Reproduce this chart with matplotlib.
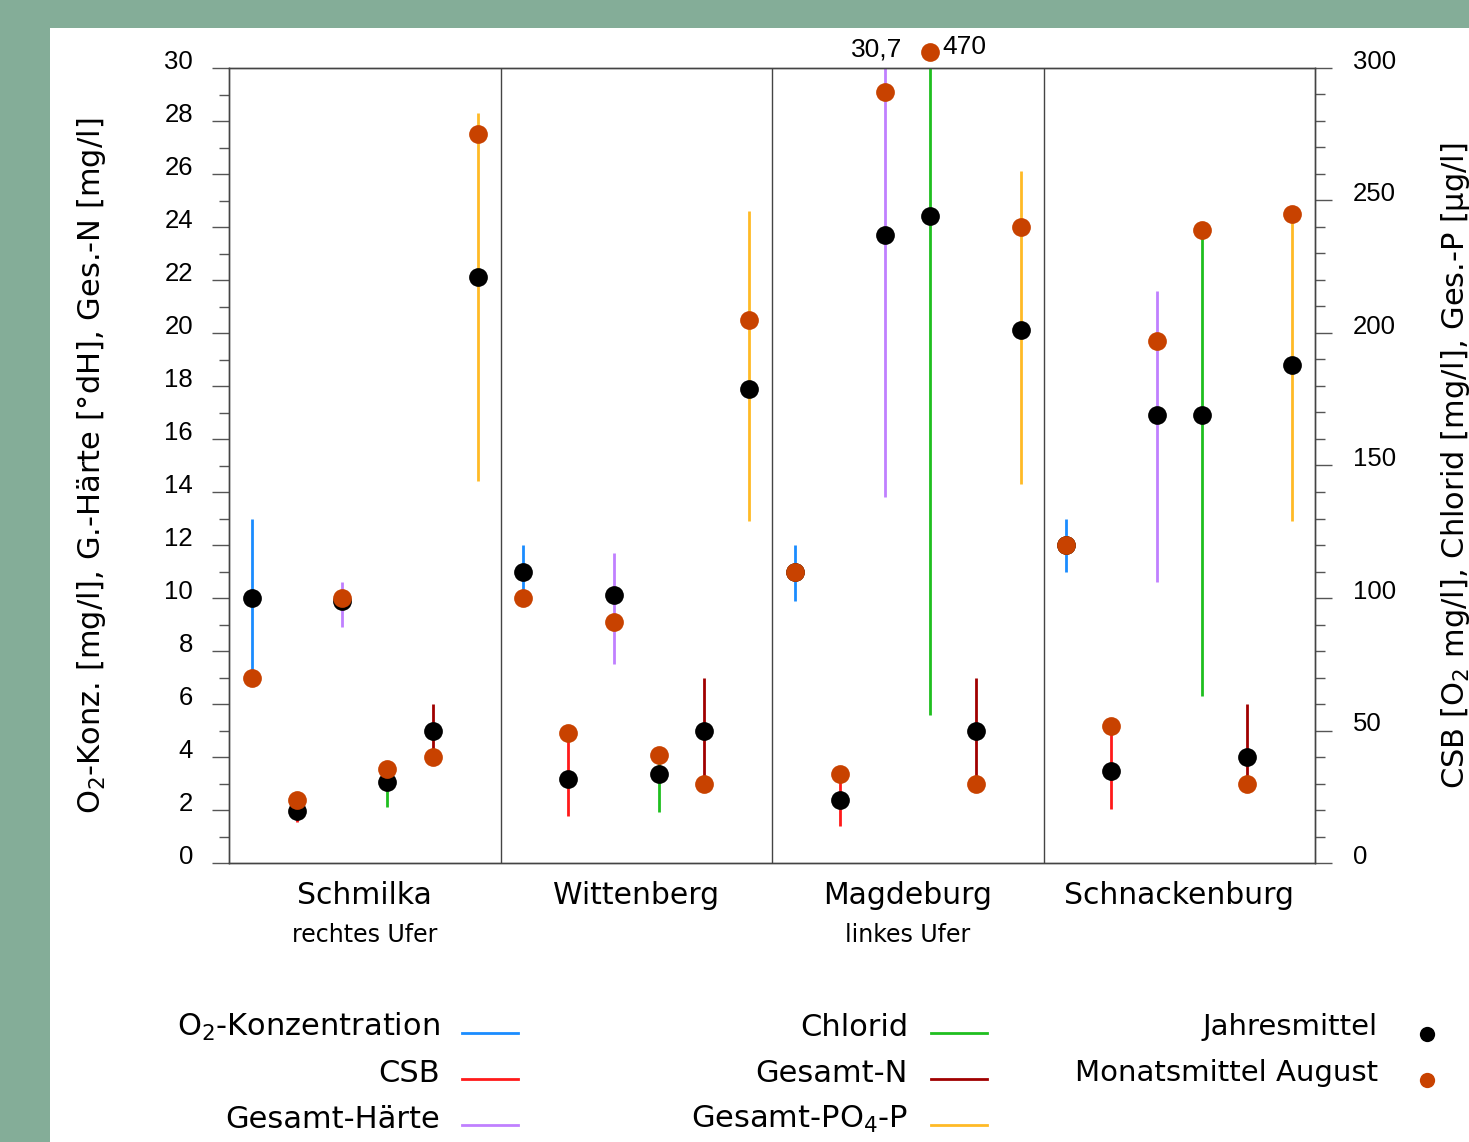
import matplotlib
matplotlib.use("Agg")
import matplotlib.pyplot as plt
import matplotlib.transforms as mtransforms
from matplotlib.lines import Line2D
from matplotlib.patches import Rectangle
from matplotlib.ticker import MultipleLocator, NullFormatter

plt.rcParams["font.family"] = ["DejaVu Sans"]
plt.rcParams["mathtext.default"] = "regular"
NUM_FONT = ["Liberation Sans", "DejaVu Sans"]

# Stations along the Elbe
stations = ["Schmilka", "Wittenberg", "Magdeburg", "Schnackenburg"]
station_notes = ["rechtes Ufer", "", "linkes Ufer", ""]

# O2 concentration [mg/l] (left axis)
o2_mean = [10.0, 11.0, 11.0, 12.0]
o2_aug = [7.0, 10.0, 11.0, 12.0]
o2_min = [7.0, 10.0, 9.9, 11.0]
o2_max = [13.0, 12.0, 12.0, 13.0]

# CSB [O2 mg/l] (right axis)
csb_mean = [19.6, 31.7, 23.8, 34.7]
csb_aug = [23.8, 49.0, 33.6, 51.7]
csb_min = [15.5, 17.7, 14.0, 20.4]
csb_max = [23.8, 49.0, 33.6, 51.7]

# Gesamt-Härte [°dH] (left axis)
haerte_mean = [9.9, 10.1, 23.7, 16.9]
haerte_aug = [10.0, 9.1, 29.1, 19.7]
haerte_min = [8.9, 7.5, 13.8, 10.6]
haerte_max = [10.6, 11.7, 30.7, 21.6]

# Chlorid [mg/l] (right axis)
chlorid_mean = [30.6, 33.6, 244.0, 169.0]
chlorid_aug = [35.5, 40.8, 470.0, 239.0]
chlorid_min = [21.0, 19.2, 56.0, 63.0]
chlorid_max = [35.5, 40.8, 470.0, 239.0]

# Gesamt-N [mg/l] (left axis)
gesn_mean = [5.0, 5.0, 5.0, 4.0]
gesn_aug = [4.0, 3.0, 3.0, 3.0]
gesn_min = [4.0, 3.0, 3.0, 3.0]
gesn_max = [6.0, 7.0, 7.0, 6.0]

# Gesamt-PO4-P [µg/l] (right axis)
po4_mean = [221.0, 179.0, 201.0, 188.0]
po4_aug = [275.0, 205.0, 240.0, 245.0]
po4_min = [144.0, 129.0, 143.0, 129.0]
po4_max = [283.0, 246.0, 261.0, 245.0]

left_ticks = list(range(0, 31, 2))
right_ticks = list(range(0, 301, 50))

GREEN_BG = "#84ad98"
C_MEAN = "#000000"
C_AUG = "#c84200"

params = [
    ("O$_2$-Konzentration", "#1a8cff", "left", o2_mean, o2_aug, o2_min, o2_max),
    ("CSB", "#ff1a1a", "right", csb_mean, csb_aug, csb_min, csb_max),
    ("Gesamt-Härte", "#c080ff", "left", haerte_mean, haerte_aug, haerte_min, haerte_max),
    ("Chlorid", "#1fbf1f", "right", chlorid_mean, chlorid_aug, chlorid_min, chlorid_max),
    ("Gesamt-N", "#a00000", "left", gesn_mean, gesn_aug, gesn_min, gesn_max),
    ("Gesamt-PO$_4$-P", "#ffba26", "right", po4_mean, po4_aug, po4_min, po4_max),
]

W, H = 1469, 1142
fig = plt.figure(figsize=(W / 100, H / 100), dpi=100, facecolor=GREEN_BG)
fig.patches.append(Rectangle((50 / W, 0), 1 - 50 / W, 1 - 28 / H,
                             transform=fig.transFigure, facecolor="white",
                             edgecolor="none", zorder=-10))

ax = fig.add_axes([229 / W, 1 - 863 / H, (1315 - 229) / W, (863 - 68) / H])
ax.set_facecolor("none")
ax2 = ax.twinx()
ax.set_ylim(0, 30)
ax2.set_ylim(0, 300)
n_par = len(params)
ax.set_xlim(0, n_par * len(stations))

spine_col = "#444444"
for a in (ax, ax2):
    for s in a.spines.values():
        s.set_color(spine_col)
        s.set_linewidth(1.0)

# y ticks; the numbers sit slightly above their tick marks
ax.set_yticks(left_ticks)
ax.yaxis.set_minor_locator(MultipleLocator(1))
ax2.set_yticks(right_ticks)
ax2.yaxis.set_minor_locator(MultipleLocator(10))
for a in (ax, ax2):
    a.yaxis.set_major_formatter(NullFormatter())
    a.tick_params(axis="y", which="major", direction="out", length=12, width=1,
                  color="#555555")
    a.tick_params(axis="y", which="minor", direction="out", length=7, width=1,
                  color="#555555")

left_lab_tr = mtransforms.offset_copy(
    mtransforms.blended_transform_factory(ax.transAxes, ax.transData),
    fig=fig, x=-36, y=6, units="dots")
for v in left_ticks:
    ax.text(0, v, f"{v}", transform=left_lab_tr, ha="right", va="center",
            fontsize=18.5, family=NUM_FONT, clip_on=False)
right_lab_tr = mtransforms.offset_copy(
    mtransforms.blended_transform_factory(ax2.transAxes, ax2.transData),
    fig=fig, x=38, y=6, units="dots")
for v in right_ticks:
    ax2.text(1, v, f"{v}", transform=right_lab_tr, ha="left", va="center",
             fontsize=18.5, family=NUM_FONT, clip_on=False)

# station separators
for k in range(1, len(stations)):
    ax.axvline(k * n_par, color=spine_col, lw=1.0, zorder=1)

# station labels
ax.set_xticks([(k + 0.5) * n_par for k in range(len(stations))])
ax.set_xticklabels(stations, fontsize=21.5)
ax.tick_params(axis="x", length=0, pad=13)
blend = mtransforms.blended_transform_factory(ax.transData, ax.transAxes)
for k, note in enumerate(station_notes):
    if note:
        ax.text((k + 0.5) * n_par, -0.0905, note, transform=blend, ha="center",
                va="center", fontsize=17)

# ranges, annual means and August means
MS = 13.5
for i, (name, col, side, mean, aug, lo, hi) in enumerate(params):
    a = ax if side == "left" else ax2
    top = a.get_ylim()[1]
    for k in range(len(stations)):
        x = k * n_par + i + 0.5
        a.plot([x, x], [lo[k], hi[k]], color=col, lw=2.0, solid_capstyle="butt", zorder=2)
        a.plot(x, mean[k], "o", color=C_MEAN, ms=MS, mew=0, zorder=4)
        if aug[k] > top:
            tr = mtransforms.offset_copy(a.transData, fig=fig, x=0, y=16, units="dots")
            a.plot(x, top, "o", color=C_AUG, ms=MS, mew=0, zorder=5, clip_on=False,
                   transform=tr)
            a.annotate(f"{aug[k]:g}".replace(".", ","), (x, top), xytext=(12, 21),
                       textcoords="offset pixels", ha="left", va="center", fontsize=19,
                       family=NUM_FONT, annotation_clip=False)
        else:
            a.plot(x, aug[k], "o", color=C_AUG, ms=MS, mew=0, zorder=5)
        if hi[k] > top and hi[k] != aug[k]:
            a.annotate(f"{hi[k]:g}".replace(".", ","), (x, top), xytext=(17, 19),
                       textcoords="offset pixels", ha="right", va="center", fontsize=19,
                       family=NUM_FONT, annotation_clip=False)

# axis titles
fig.text(92 / W, 1 - 466 / H, "O$_2$-Konz. [mg/l], G.-Härte [°dH], Ges.-N [mg/l]",
         rotation=90, ha="center", va="center", fontsize=22)
fig.text(1455 / W, 1 - 466 / H, "CSB [O$_2$ mg/l], Chlorid [mg/l], Ges.-P [µg/l]",
         rotation=90, ha="center", va="center", fontsize=22)

# legend
rows_y = [1027, 1073, 1119]
cols = [(440, 462, 518), (908, 931, 987)]
for j, (name, col, *_rest) in enumerate(params):
    c = cols[j // 3]
    y = rows_y[j % 3]
    fig.text(c[0] / W, 1 - y / H, name, ha="right", va="center", fontsize=22)
    fig.add_artist(Line2D([c[1] / W, c[2] / W], [1 - (y + 6) / H] * 2, color=col, lw=2.0,
                          transform=fig.transFigure))
for j, (name, col) in enumerate([("Jahresmittel", C_MEAN), ("Monatsmittel August", C_AUG)]):
    y = rows_y[j]
    fig.text(1378 / W, 1 - y / H, name, ha="right", va="center", fontsize=21)
    fig.add_artist(Line2D([1427 / W], [1 - (y + 7) / H], marker="o", ms=11, mew=0,
                          color=col, transform=fig.transFigure))

fig.savefig("out.png", dpi=100, facecolor=GREEN_BG)
